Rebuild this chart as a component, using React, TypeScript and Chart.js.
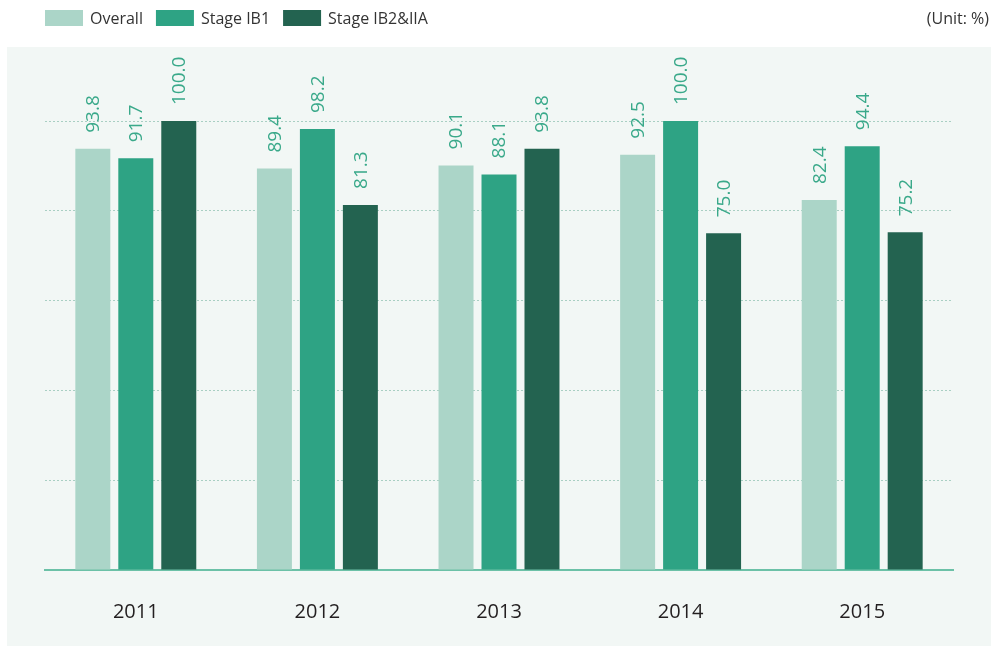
import React, { useEffect, useRef } from "react";
import { Chart, registerables } from "chart.js";

Chart.register(...registerables);

const years = ["2011", "2012", "2013", "2014", "2015"];
const overall = [93.8, 89.4, 90.1, 92.5, 82.4];
const stageIB1 = [91.7, 98.2, 88.1, 100.0, 94.4];
const stageIB2IIA = [100.0, 81.3, 93.8, 75.0, 75.2];
const seriesNames = ["Overall", "Stage IB1", "Stage IB2&IIA"];
const seriesColors = ["#abd5c8", "#2ea384", "#236350"];
const unitLabel = "(Unit: %)";

const FONT = "'Open Sans', 'Noto Sans', sans-serif";

const decorPlugin = {
  id: "decor",
  beforeDraw(chart: any) {
    const ctx = chart.ctx;
    ctx.save();
    ctx.fillStyle = "#ffffff";
    ctx.fillRect(0, 0, chart.width, chart.height);
    ctx.fillStyle = "#f2f7f5";
    ctx.fillRect(7, 47, 984, 599);
    // legend
    ctx.font = `16px ${FONT}`;
    ctx.textBaseline = "middle";
    ctx.textAlign = "left";
    let x = 45;
    chart.data.datasets.forEach((ds: any) => {
      ctx.fillStyle = ds.backgroundColor;
      ctx.fillRect(x, 10, 38, 16);
      ctx.fillStyle = "#333333";
      ctx.fillText(ds.label, x + 45, 19);
      x += 45 + ctx.measureText(ds.label).width + 13;
    });
    ctx.textAlign = "right";
    ctx.fillText(unitLabel, 989, 19);
    ctx.restore();
  },
  afterDatasetsDraw(chart: any) {
    const ctx = chart.ctx;
    ctx.save();
    ctx.font = `19px ${FONT}`;
    ctx.fillStyle = "#3aa98a";
    ctx.textAlign = "left";
    ctx.textBaseline = "middle";
    chart.data.datasets.forEach((ds: any, i: number) => {
      const meta = chart.getDatasetMeta(i);
      meta.data.forEach((bar: any, j: number) => {
        const v = ds.data[j];
        ctx.save();
        ctx.translate(bar.x, bar.y - 16);
        ctx.rotate(-Math.PI / 2);
        ctx.fillText(v.toFixed(1), 0, 1);
        ctx.restore();
      });
    });
    ctx.restore();
  },
};

export default function App() {
  const ref = useRef<HTMLCanvasElement>(null);
  useEffect(() => {
    if (!ref.current) return;
    const chart = new Chart(ref.current, {
      type: "bar",
      data: {
        labels: years,
        datasets: [overall, stageIB1, stageIB2IIA].map((d, i) => ({
          label: seriesNames[i],
          data: d,
          backgroundColor: seriesColors[i],
          borderWidth: 0,
          categoryPercentage: 0.71,
          barPercentage: 0.814,
        })),
      },
      options: {
        responsive: false,
        devicePixelRatio: 1,
        animation: false,
        layout: { padding: { left: 45, right: 44, top: 121, bottom: 0 } },
        plugins: {
          legend: { display: false },
          tooltip: { enabled: false },
        },
        scales: {
          x: {
            grid: { display: false, drawTicks: false },
            border: { display: true, color: "#6cc1a7", width: 2 },
            ticks: {
              color: "#231f20",
              font: { family: FONT, size: 20 },
              padding: 30,
            },
            afterFit: (s: any) => {
              s.height = 76;
            },
          },
          y: {
            min: 0,
            max: 100,
            grid: {
              drawTicks: false,
              color: (c: any) => (c.tick && c.tick.value === 0 ? "rgba(0,0,0,0)" : "#a9cfc3"),
              lineWidth: 1,
            },
            border: { display: false, dash: [2, 2] },
            ticks: { display: false, stepSize: 20 },
            afterFit: (s: any) => {
              s.width = 0;
            },
          },
        },
      },
      plugins: [decorPlugin],
    } as any);
    return () => chart.destroy();
  }, []);
  return (
    <div style={{ position: "absolute", left: 0, top: 0, width: 997, height: 646 }}>
      <canvas ref={ref} width={997} height={646} style={{ display: "block", width: 997, height: 646 }} />
    </div>
  );
}
